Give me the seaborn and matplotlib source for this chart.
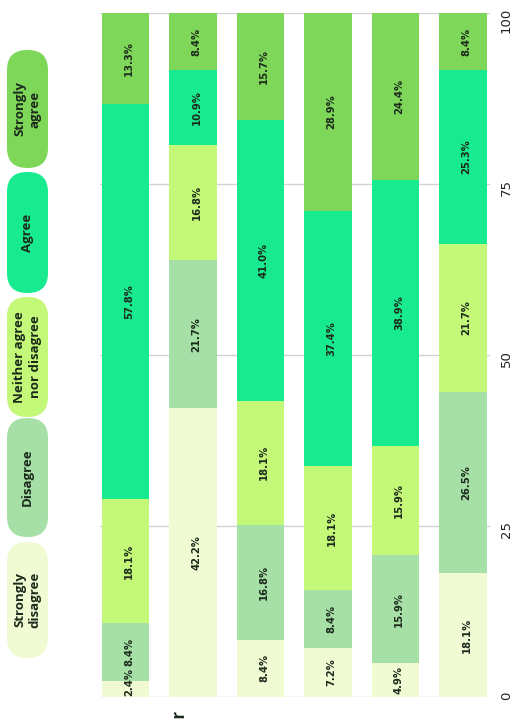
import matplotlib
matplotlib.use("Agg")
import matplotlib.pyplot as plt
from matplotlib.patches import FancyBboxPatch
import numpy as np
import pandas as pd
import seaborn as sns

# Response categories, bottom of each stack to top
levels = ["Strongly\ndisagree", "Disagree", "Neither agree\nnor disagree", "Agree", "Strongly\nagree"]
colors = ["#f1fbd3", "#a7e0a6", "#c4f878", "#18ea8f", "#7fd75a"]

# Survey items (one stacked bar each)
items = ["Q1", "Q2", "Q3", "Q4", "Q5", "Q6"]

# Percent shares per item, one list per response level
strongly_disagree = [2.4, 42.2, 8.4, 7.2, 4.9, 18.1]
disagree = [8.4, 21.7, 16.8, 8.4, 15.9, 26.5]
neither = [18.1, 16.8, 18.1, 18.1, 15.9, 21.7]
agree = [57.8, 10.9, 41.0, 37.4, 38.9, 25.3]
strongly_agree = [13.3, 8.4, 15.7, 28.9, 24.4, 8.4]

tick_values = [0, 25, 50, 75, 100]

series = [strongly_disagree, disagree, neither, agree, strongly_agree]
df = pd.DataFrame({"item": items})
for name, vals in zip(levels, series):
    df[name] = vals
shares = df[levels].to_numpy()
tops = np.cumsum(shares, axis=1)
bottoms = tops - shares

sns.set_style("white")
plt.rcParams["font.family"] = ["Open Sans", "DejaVu Sans"]

TXT = "#1c2a1c"
fig = plt.figure(figsize=(5.13, 7.19), dpi=100)
ax = fig.add_axes([100 / 513, 22 / 719, 390 / 513, 684 / 719])

# Stacked bars: draw cumulative totals from the top level down
for k in range(len(levels) - 1, -1, -1):
    sns.barplot(x=df["item"], y=tops[:, k], order=items, color=colors[k],
                saturation=1, width=0.7, linewidth=0, ax=ax)

# Value labels inside each segment
lab_kw = dict(rotation=90, rotation_mode="anchor", va="center", fontsize=7.2,
              fontweight="bold", color=TXT, family="DejaVu Sans")
for i in range(len(items)):
    for k in range(len(levels)):
        v = shares[i, k]
        lab = f"{v:.1f}%"
        if v < 4:
            ax.text(i + 0.05, bottoms[i, k] + 0.1, lab, ha="left", **lab_kw)
        else:
            ax.text(i + 0.05, bottoms[i, k] + v / 2, lab, ha="center", **lab_kw)

ax.set_xlim(-0.38, 5.4)
ax.set_ylim(0, 100)
ax.set_yticks(tick_values)
ax.set_yticklabels([str(t) for t in tick_values], family="DejaVu Sans")
ax.yaxis.tick_right()
ax.tick_params(axis="y", length=0, pad=7, labelsize=9.5, labelrotation=90, colors="#222222")
ax.set_xticks([])
ax.set_xlabel("")
ax.set_ylabel("")
ax.set_axisbelow(True)
ax.yaxis.grid(True, color="#d2d2d2", linewidth=1)
for s in ax.spines.values():
    s.set_visible(False)

# Legend as rounded pills down the left side
W, H = 513, 719
pill_spans = [(542, 658), (418, 537), (297, 417), (172, 293), (50, 168)]
for lab, col, (y0, y1) in zip(levels, colors, pill_spans):
    x0, x1 = 7, 48
    r = 20
    box = FancyBboxPatch((x0 / W, (H - y1) / H), (x1 - x0) / W, (y1 - y0) / H,
                         boxstyle=f"round,pad=0,rounding_size={r / W}",
                         transform=fig.transFigure, facecolor=col, edgecolor="none")
    box.set_mutation_aspect(W / H)
    fig.patches.append(box)
    fig.text((x0 + x1) / 2 / W, (H - (y0 + y1) / 2) / H, lab, rotation=90,
             ha="center", va="center", fontsize=9.5, fontweight="bold",
             color=TXT, linespacing=1.2, multialignment="center")

# Axis title, mostly below the bottom edge
fig.text(180 / W, 8 / H, "Year", rotation=90, rotation_mode="anchor",
         ha="right", va="center", fontsize=12, fontweight="bold", color=TXT)

fig.savefig("out.png", dpi=100)
